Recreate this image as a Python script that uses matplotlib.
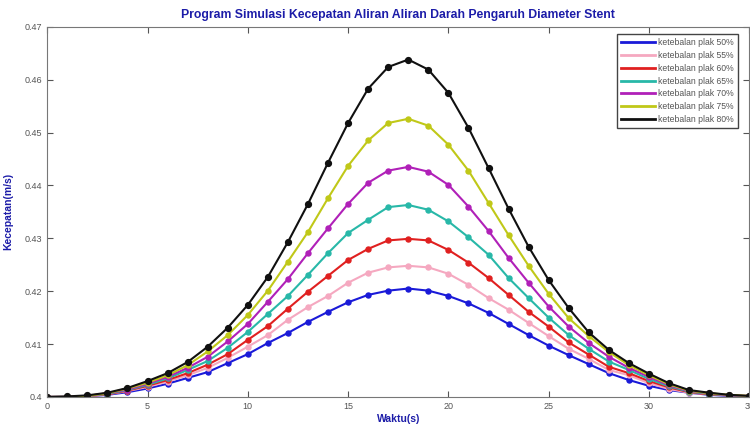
import matplotlib
matplotlib.use('Agg')
import matplotlib.pyplot as plt
import numpy as np

# waktu (s)
waktu = list(range(0, 36))

# kecepatan (m/s) per ketebalan plak
plak_50 = [.4000, .4000, .4001, .4004, .4009, .4016, .4025, .4036, .4047, .4064, .4081, .4102,
           .4121, .4142, .4161, .4179, .4193, .4201, .4205, .4201, .4191, .4177, .4159, .4138,
           .4117, .4097, .4079, .4062, .4045, .4032, .4021, .4013, .4008, .4004, .4002, .4001]
plak_55 = [.4000, .4000, .4001, .4005, .4011, .4019, .4029, .4041, .4055, .4074, .4095, .4117,
           .4146, .4170, .4191, .4216, .4235, .4245, .4248, .4245, .4233, .4212, .4187, .4165,
           .4140, .4115, .4091, .4072, .4051, .4041, .4026, .4015, .4008, .4005, .4003, .4001]
plak_60 = [.4000, .4000, .4002, .4005, .4012, .4021, .4032, .4045, .4061, .4081, .4108, .4134,
           .4167, .4199, .4229, .4259, .4280, .4296, .4299, .4296, .4278, .4254, .4225, .4193,
           .4161, .4133, .4103, .4080, .4057, .4045, .4030, .4018, .4009, .4005, .4003, .4001]
plak_65 = [.4000, .4000, .4002, .4006, .4013, .4023, .4035, .4051, .4068, .4093, .4123, .4157,
           .4191, .4231, .4272, .4310, .4335, .4359, .4363, .4354, .4332, .4302, .4269, .4225,
           .4187, .4150, .4117, .4091, .4067, .4051, .4034, .4020, .4010, .4006, .4003, .4001]
plak_70 = [.4000, .4000, .4002, .4007, .4014, .4025, .4038, .4055, .4076, .4105, .4138, .4180,
           .4223, .4272, .4319, .4365, .4405, .4428, .4435, .4426, .4401, .4360, .4314, .4263,
           .4216, .4171, .4133, .4102, .4076, .4055, .4038, .4022, .4011, .4007, .4003, .4002]
plak_75 = [.4000, .4000, .4002, .4007, .4016, .4027, .4041, .4060, .4086, .4117, .4155, .4201,
           .4256, .4312, .4376, .4437, .4485, .4518, .4526, .4513, .4477, .4428, .4367, .4306,
           .4248, .4195, .4149, .4115, .4085, .4060, .4041, .4024, .4012, .4007, .4004, .4002]
plak_80 = [.4000, .4001, .4003, .4008, .4017, .4030, .4045, .4066, .4095, .4131, .4174, .4227,
           .4293, .4365, .4443, .4518, .4583, .4624, .4638, .4619, .4575, .4509, .4433, .4356,
           .4284, .4221, .4168, .4122, .4089, .4064, .4044, .4026, .4013, .4008, .4004, .4002]

labels = ['ketebalan plak 50%', 'ketebalan plak 55%', 'ketebalan plak 60%',
          'ketebalan plak 65%', 'ketebalan plak 70%', 'ketebalan plak 75%',
          'ketebalan plak 80%']
series = [plak_50, plak_55, plak_60, plak_65, plak_70, plak_75, plak_80]
colors = ['#1a1ad8', '#f5a8c0', '#e02020', '#28b8a8', '#b020b8', '#c0c818', '#101010']

plt.rcParams['font.family'] = ['Liberation Sans', 'DejaVu Sans']

fig = plt.figure(figsize=(7.5, 4.25), dpi=100)
ax = fig.add_axes([0.063, 0.066, 0.936, 0.871])

for y, c, lab in zip(series, colors, labels):
    ms = 4.2 if c == '#101010' else 3.6
    ax.plot(waktu, y, '-o', color=c, lw=1.5, ms=ms, mfc=c, mec=c, label=lab)

ax.set_xlim(0, 35)
ax.set_ylim(0.40, 0.47)
ax.set_xticks(np.arange(0, 36, 5))
ax.set_yticks([0.40, 0.41, 0.42, 0.43, 0.44, 0.45, 0.46, 0.47])
ax.set_yticklabels(['0.4', '0.41', '0.42', '0.43', '0.44', '0.45', '0.46', '0.47'])
ax.tick_params(direction='in', top=True, right=True, labelsize=6.5,
               labelcolor='#555555', color='#555555', length=4)
for s in ax.spines.values():
    s.set_color('#777777')

title_col = '#1c1ca8'
ax.set_title('Program Simulasi Kecepatan Aliran Aliran Darah Pengaruh Diameter Stent',
             fontsize=8.8, fontweight='bold', color=title_col, pad=6)
ax.set_xlabel('Waktu(s)', fontsize=7.5, fontweight='bold', color=title_col, labelpad=2)
ax.set_ylabel('Kecepatan(m/s)', fontsize=7.5, fontweight='bold', color=title_col, labelpad=8)

leg = ax.legend(loc='upper right', fontsize=6.2, handlelength=4.0, handletextpad=0.35,
                labelspacing=0.45, borderpad=0.45, fancybox=False, framealpha=1,
                edgecolor='#444444', bbox_to_anchor=(0.99, 0.992))
for h in leg.legend_handles:
    h.set_marker('')
    h.set_linewidth(2)
for t in leg.get_texts():
    t.set_color('#555555')

fig.savefig('out.png', dpi=100)
